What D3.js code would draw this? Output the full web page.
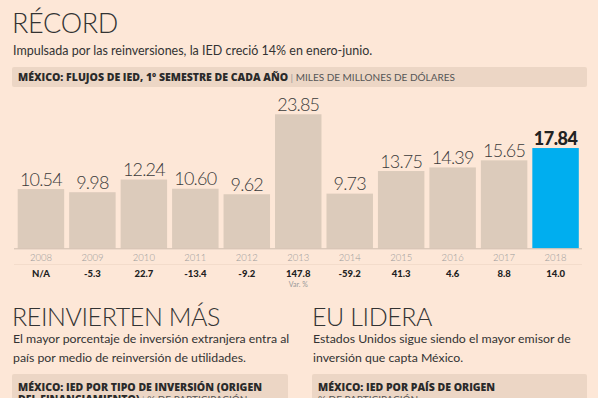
<!DOCTYPE html>
<html>
<head>
<meta charset="utf-8">
<script src="https://cdn.jsdelivr.net/npm/d3@7"></script>
<style>
  html, body { margin: 0; padding: 0; background: #fde7d7; overflow: hidden; }
  svg { display: block; font-family: Lato, "Open Sans", sans-serif; }
</style>
</head>
<body>
<div id="chart"></div>
<script>
// datos
const years = ['2008', '2009', '2010', '2011', '2012', '2013', '2014', '2015', '2016', '2017', '2018'];
const values = [10.54, 9.98, 12.24, 10.60, 9.62, 23.85, 9.73, 13.75, 14.39, 15.65, 17.84];
const varPct = ['N/A', '-5.3', '22.7', '-13.4', '-9.2', '147.8', '-59.2', '41.3', '4.6', '8.8', '14.0'];
const valueLabels = ['10.54', '9.98', '12.24', '10.60', '9.62', '23.85', '9.73', '13.75', '14.39', '15.65', '17.84'];

const width = 598, height = 398;
const boldFont = '"Open Sans", Lato, sans-serif';
const svg = d3.select('#chart').append('svg').attr('width', width).attr('height', height);

// encabezado
svg.append('text').attr('x', 12).attr('y', 33)
  .style('font-size', '27px').style('font-weight', 300).style('fill', '#333')
  .style('letter-spacing', '-0.3px')
  .text('RÉCORD');
svg.append('text').attr('x', 13).attr('y', 55)
  .style('font-size', '12.5px').style('fill', '#333')
  .text('Impulsada por las reinversiones, la IED creció 14% en enero-junio.');

svg.append('rect').attr('x', 12).attr('y', 67).attr('width', 575).attr('height', 20)
  .attr('rx', 2).attr('fill', '#ecd6c5');
const hdr = svg.append('text').attr('x', 18).attr('y', 81).style('font-size', '10.5px');
hdr.append('tspan').style('font-weight', 800).style('fill', '#2a2a2a').style('font-family', boldFont)
  .text('MÉXICO: FLUJOS DE IED, 1º SEMESTRE DE CADA AÑO');
hdr.append('tspan').style('fill', '#999').style('font-size', '10px').text(' | ');
hdr.append('tspan').style('fill', '#555').style('font-weight', 400).style('font-size', '10px')
  .text('MILES DE MILLONES DE DÓLARES');

// escalas
const x = d3.scaleBand().domain(years).range([17.7, 578.8]).paddingInner(0.097).paddingOuter(0);
const y = d3.scaleLinear().domain([0, 25]).range([248.3, 107.8]);

const g = svg.append('g');

g.selectAll('rect.bar')
  .data(years)
  .join('rect')
  .attr('class', 'bar')
  .attr('x', d => x(d))
  .attr('y', (d, i) => y(values[i]))
  .attr('width', x.bandwidth())
  .attr('height', (d, i) => y(0) - y(values[i]))
  .attr('fill', (d, i) => i === years.length - 1 ? '#00aeef' : '#dccbbb');

g.selectAll('text.value')
  .data(years)
  .join('text')
  .attr('class', 'value')
  .attr('x', d => x(d) + x.bandwidth() / 2)
  .attr('y', (d, i) => y(values[i]) - 3.5)
  .attr('text-anchor', 'middle')
  .style('font-size', '18px')
  .style('font-weight', (d, i) => i === years.length - 1 ? 900 : 300)
  .style('fill', (d, i) => i === years.length - 1 ? '#222' : '#3a3a3a')
  .style('letter-spacing', (d, i) => i === years.length - 1 ? '-0.5px' : '-0.8px')
  .text((d, i) => valueLabels[i]);

// eje de años
const ax = g.append('g')
  .attr('transform', `translate(0,${y(0)})`)
  .call(d3.axisBottom(x).tickSize(0).tickPadding(6));
ax.select('.domain').attr('d', 'M14,0.5H582').attr('stroke', '#cdbcae').attr('stroke-width', 1);
ax.selectAll('.tick text')
  .style('font-size', '9.5px').style('fill', '#9a9a9a')
  .style('font-family', 'Lato, sans-serif').style('font-weight', 300);

g.append('line').attr('x1', 14).attr('x2', 582).attr('y1', 264.5).attr('y2', 264.5)
  .attr('stroke', '#f3dccb').attr('stroke-width', 1);

g.selectAll('text.var')
  .data(years)
  .join('text')
  .attr('class', 'var')
  .attr('x', d => x(d) + x.bandwidth() / 2)
  .attr('y', 276.5)
  .attr('text-anchor', 'middle')
  .style('font-size', '9.5px').style('font-weight', 900).style('fill', '#222')
  .text((d, i) => varPct[i]);

svg.append('text').attr('x', x('2013') + x.bandwidth() / 2).attr('y', 286.5)
  .attr('text-anchor', 'middle')
  .style('font-size', '7px').style('fill', '#999')
  .text('Var. %');

// secciones inferiores
const sections = [
  { x: 12, title: 'REINVIERTEN MÁS',
    lines: ['El mayor porcentaje de inversión extranjera entra al', 'país por medio de reinversión de utilidades.'],
    box: ['MÉXICO: IED POR TIPO DE INVERSIÓN  (ORIGEN', 'DEL FINANCIAMIENTO)'], w: 276 },
  { x: 312, title: 'EU LIDERA',
    lines: ['Estados Unidos sigue siendo el mayor emisor de', 'inversión que capta México.'],
    box: ['MÉXICO: IED POR PAÍS DE ORIGEN'], w: 275 }
];

sections.forEach(s => {
  const sg = svg.append('g');
  sg.append('text').attr('x', s.x).attr('y', 326)
    .style('font-size', '25px').style('font-weight', 300).style('fill', '#333')
    .style('letter-spacing', '-0.4px')
    .text(s.title);
  s.lines.forEach((l, i) => {
    sg.append('text').attr('x', s.x + 1).attr('y', 343 + i * 19)
      .style('font-size', '12.3px').style('fill', '#333').text(l);
  });
  sg.append('rect').attr('x', s.x).attr('y', 374).attr('width', s.w).attr('height', 40)
    .attr('rx', 2).attr('fill', '#ecd6c5');
  sg.append('text').attr('x', s.x + 6).attr('y', 391)
    .style('font-size', '10.5px').style('font-weight', 800).style('fill', '#2a2a2a')
    .style('font-family', boldFont)
    .text(s.box[0]);
  const l2 = sg.append('text').attr('x', s.x + 6).attr('y', 403).style('font-size', '10px');
  if (s.box[1]) {
    l2.append('tspan').style('font-weight', 800).style('fill', '#2a2a2a').style('font-size', '10.5px')
      .style('font-family', boldFont).text(s.box[1]);
    l2.append('tspan').style('fill', '#999').text(' | ');
  }
  l2.append('tspan').style('fill', '#555').text('% DE PARTICIPACIÓN');
});
</script>
</body>
</html>
